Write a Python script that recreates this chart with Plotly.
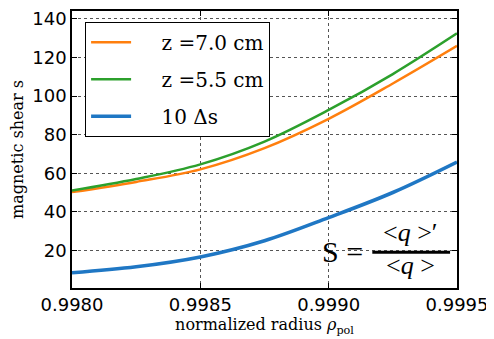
import plotly.graph_objects as go

rho = [0.99800, 0.99825, 0.99850, 0.99875, 0.99900, 0.99925, 0.99950]
s_z70 = [50.2, 55.5, 62.0, 73.0, 88.2, 106.5, 126.0]
s_z55 = [51.0, 57.0, 64.6, 76.4, 92.8, 111.4, 132.5]
ds10 = [8.4, 11.5, 16.6, 25.0, 37.0, 50.0, 65.8]

names = ["z =7.0 cm", "z =5.5 cm", "10 \u0394s"]
colors = ["#ff7f0e", "#2ca02c", "#1f77c4"]
widths = [2.5, 2.5, 3.6]
series = [s_z70, s_z55, ds10]

pad = "\u00a0\u00a0\u00a0\u00a0"
fig = go.Figure()
for i, (nm, c, w, y) in enumerate(zip(names, colors, widths, series)):
    fig.add_trace(go.Scatter(x=rho, y=y, mode="lines", name=pad + nm,
                             line=dict(color=c, width=w, shape="spline"),
                             legendgroup=str(i)))

tick_font = dict(family="DejaVu Sans", size=18, color="black")
grid = dict(showgrid=True, gridcolor="#555", griddash="dot", gridwidth=1,
            showline=True, linecolor="black", linewidth=1.5, mirror="ticks",
            ticks="inside", ticklen=5, tickcolor="black", zeroline=False,
            tickfont=tick_font, ticklabeloverflow="allow")

ser = "DejaVu Serif"
fig.update_xaxes(range=[0.9980, 0.9995], tickvals=[0.9980, 0.9985, 0.9990, 0.9995],
                 ticktext=["0.9980", "0.9985", "0.9990", "0.9995"],
                 title=dict(text="normalized radius <i>\u03c1</i><sub>pol</sub>",
                            font=dict(family=ser, size=16, color="black"),
                            standoff=4), **grid)
fig.update_yaxes(range=[0.5, 144.1], tickvals=[20, 40, 60, 80, 100, 120, 140],
                 title=dict(text="magnetic shear s",
                            font=dict(family=ser, size=16, color="black"),
                            standoff=6), **grid)

# formula annotation s = <q>'/<q>
fig.add_annotation(x=0.999142, y=19.5, xref="x", yref="y", text="S =", showarrow=False,
                   font=dict(family="Liberation Serif", size=30, color="black"),
                   xanchor="right", yanchor="middle")
fig.add_annotation(x=0.99932, y=29.5, xref="x", yref="y", text="&lt;<i>q</i> &gt;\u2032",
                   showarrow=False, font=dict(family="Liberation Serif", size=26, color="black"),
                   xanchor="center", yanchor="middle")
fig.add_annotation(x=0.99932, y=12.0, xref="x", yref="y", text="&lt;<i>q</i> &gt;",
                   showarrow=False, font=dict(family="Liberation Serif", size=26, color="black"),
                   xanchor="center", yanchor="middle")
fig.add_shape(type="line", xref="x", yref="y", x0=0.99917, x1=0.999473, y0=19, y1=19,
              line=dict(color="black", width=3))

# page body has an 8px margin, so the figure is 8px smaller and offset
fig.update_layout(
    width=486, height=331,
    margin=dict(l=64, r=37, t=0, b=51),
    paper_bgcolor="white", plot_bgcolor="white",
    showlegend=True,
    legend=dict(x=0.034, y=0.961, xanchor="left", yanchor="top",
                bgcolor="white", bordercolor="black", borderwidth=1,
                font=dict(family=ser, size=20, color="black"),
                tracegroupgap=8, itemwidth=40),
)

fig.write_html("out.html")
